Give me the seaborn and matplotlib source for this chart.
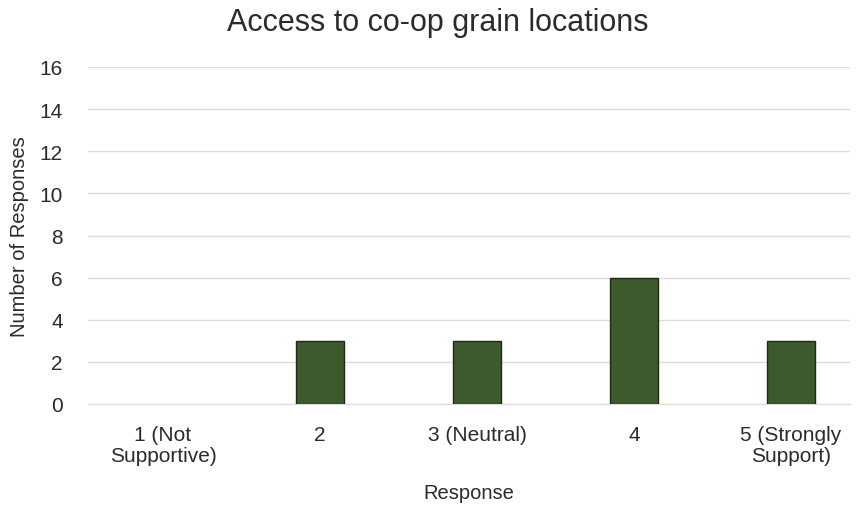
import matplotlib
matplotlib.use("Agg")
import matplotlib.pyplot as plt
import seaborn as sns
import pandas as pd

# data
responses = ["1 (Not\nSupportive)", "2", "3 (Neutral)", "4", "5 (Strongly\nSupport)"]
counts = [0, 3, 3, 6, 3]

df = pd.DataFrame({"Response": responses, "Count": counts})

sns.set_style("white")
plt.rcParams['font.family'] = ['Liberation Sans', 'DejaVu Sans']
txt = "#2b2b2b"

fig = plt.figure(figsize=(8.62, 5.06), dpi=100)
W, H = 862, 506
ax = fig.add_axes([88 / W, 1 - 405 / H, (850 - 88) / W, (405 - 68) / H])

sns.barplot(data=df, x="Response", y="Count", color="#3d5a2c", width=0.31,
            edgecolor="#1e2a18", linewidth=1.0, saturation=1, ax=ax, zorder=3)
# no outline for empty bars
for p in ax.patches:
    if p.get_height() == 0:
        p.set_visible(False)

ax.set_xlim(-0.478, 4.376)
ax.set_ylim(0, 16)
ax.set_yticks(range(0, 17, 2))
ax.yaxis.grid(True, color="#dcdcdc", linewidth=1, zorder=0)
ax.xaxis.grid(False)
for s in ["top", "right", "left"]:
    ax.spines[s].set_visible(False)
ax.spines["bottom"].set_color("#dcdcdc")
ax.tick_params(axis="both", length=0, labelsize=15, colors=txt)
ax.tick_params(axis="y", pad=18)
ax.tick_params(axis="x", pad=15)
for lab in ax.get_xticklabels():
    lab.set_linespacing(1.15)

ax.set_xlabel("Response", fontsize=14.5, color=txt, labelpad=13)
ax.set_ylabel("Number of Responses", fontsize=14.5, color=txt, labelpad=8)
fig.suptitle("Access to co-op grain locations", fontsize=22, color=txt,
             x=438 / W, y=1 - 23 / H, va="center")

fig.savefig("out.png", dpi=100)
